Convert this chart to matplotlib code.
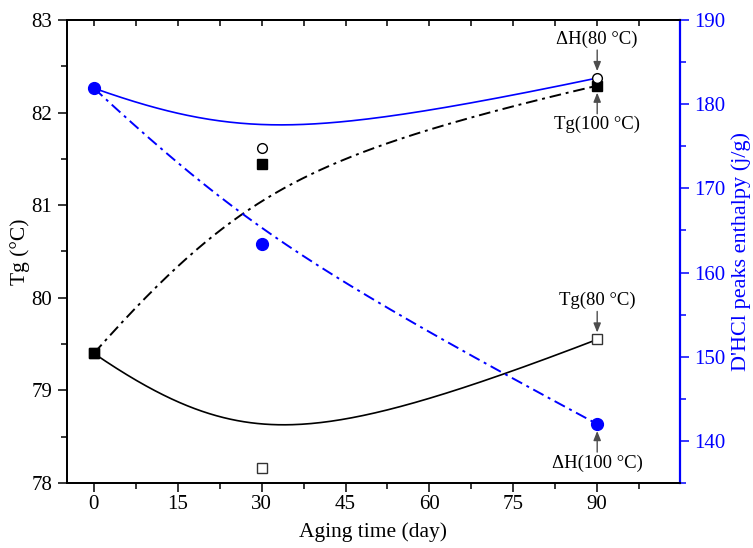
import numpy as np
import matplotlib
matplotlib.use("Agg")
import matplotlib.pyplot as plt

plt.rcParams['font.family'] = ['Liberation Serif', 'DejaVu Serif']

# aging days and measured values
days = [0, 30, 90]
tg_80 = [79.40, 78.16, 79.55]      # Tg, aged at 80 °C (°C)
tg_100 = [79.40, 81.44, 82.29]     # Tg, aged at 100 °C (°C)
dh_80 = [181.9, 174.8, 183.1]      # D'HCl peak enthalpy, 80 °C (j/g)
dh_100 = [181.9, 163.4, 142.0]     # D'HCl peak enthalpy, 100 °C (j/g)

x_ticks = [0, 15, 30, 45, 60, 75, 90]
tg_ticks = [78, 79, 80, 81, 82, 83]
dh_ticks = [140, 150, 160, 170, 180, 190]

BLUE = '#0000ff'
GREY = '#4d4d4d'
DASHDOT = (0, (6, 2.5, 1.5, 2.5))


def bspline(xs, ys, w=1.8, n=200):
    """Rational quadratic B-spline using the three points as control points."""
    t = np.linspace(0, 1, n)
    b0, b1, b2 = (1 - t) ** 2, 2 * w * t * (1 - t), t ** 2
    d = b0 + b1 + b2
    xs, ys = np.asarray(xs, float), np.asarray(ys, float)
    return ((b0 * xs[0] + b1 * xs[1] + b2 * xs[2]) / d,
            (b0 * ys[0] + b1 * ys[1] + b2 * ys[2]) / d)


fig = plt.figure(figsize=(7.53, 5.48), dpi=100)
ax = fig.add_axes([0.089, 0.1186, 0.814, 0.845])
ax2 = ax.twinx()

# Tg curves on the left axis
ax.plot(*bspline(days, tg_80), color='black', lw=1.2, zorder=2)
ax.plot(*bspline(days, tg_100), color='black', lw=1.4, ls=DASHDOT, zorder=2)
ax.plot(days, tg_80, ls='none', marker='s', ms=6.5, mfc='white', mec='#333333',
        mew=1.0, zorder=4)
ax.plot(days, tg_100, ls='none', marker='s', ms=7, mfc='black', mec='black', zorder=4)

# enthalpy curves on the right axis
ax2.plot(*bspline(days, dh_80), color=BLUE, lw=1.2, zorder=2)
ax2.plot(*bspline(days, dh_100), color=BLUE, lw=1.4, ls=DASHDOT, zorder=2)
ax2.plot(days[1:], dh_80[1:], ls='none', marker='o', ms=7, mfc='white', mec='black',
         mew=1.0, zorder=4)
ax2.plot(days, dh_100, ls='none', marker='o', ms=8.5, mfc=BLUE, mec=BLUE, zorder=5)

ax.set_xlim(-4.8, 104.8)
ax.set_ylim(78, 83)
ax2.set_ylim(135, 190)

ax.set_xticks(x_ticks)
ax.set_xticks(np.arange(7.5, 104, 15), minor=True)
ax.set_yticks(tg_ticks)
ax.set_yticks(np.arange(78.5, 83, 1), minor=True)
ax2.set_yticks(dh_ticks)
ax2.set_yticks(np.arange(135, 190, 10), minor=True)

ax.tick_params(axis='both', which='major', direction='out', length=6.5, width=1.1,
               labelsize=15, colors='black', pad=4)
ax.tick_params(axis='x', which='major', pad=2)
ax.tick_params(axis='both', which='minor', direction='out', length=4, width=1.1)
ax2.tick_params(axis='y', which='major', direction='out', length=6.5, width=1.1,
                labelsize=15, colors=BLUE, pad=4)
ax2.tick_params(axis='y', which='minor', direction='out', length=4, width=1.1,
                colors=BLUE)

# mirrored ticks on the top edge, pointing inward
top = ax.secondary_xaxis('top')
top.set_xticks(x_ticks)
top.set_xticks(np.arange(7.5, 104, 15), minor=True)
top.tick_params(which='both', direction='in', length=4.5, width=1.1, labeltop=False)

for sp in ax.spines.values():
    sp.set_linewidth(1.3)
for sp in ax2.spines.values():
    sp.set_linewidth(1.3)
ax2.spines['right'].set_color(BLUE)
ax2.spines['right'].set_linewidth(1.6)
top.spines['top'].set_linewidth(1.3)

ax.set_xlabel('Aging time (day)', fontsize=15.5, labelpad=6)
ax.set_ylabel('Tg (°C)', fontsize=15.5, labelpad=1)
ax2.set_ylabel("D'HCl peaks enthalpy (j/g)", fontsize=16, color=BLUE, labelpad=4)

# labelled arrows at the 90-day points
arrow = dict(arrowstyle='-|>,head_length=0.55,head_width=0.22', color=GREY, lw=1.0,
             shrinkA=0, shrinkB=5)
notes = [
    (ax2, dh_80[2], 'ΔH(80 °C)', -1),
    (ax, tg_100[2], 'Tg(100 °C)', 1),
    (ax, tg_80[2], 'Tg(80 °C)', -1),
    (ax2, dh_100[2], 'ΔH(100 °C)', 1),
]
for a, val, label, side in notes:
    a.annotate('', xy=(days[2], val), xycoords='data',
               xytext=(0, -side * 28), textcoords='offset pixels',
               arrowprops=arrow, zorder=6)
    a.annotate(label, xy=(days[2], val), xycoords='data',
               xytext=(0, -side * 39), textcoords='offset pixels',
               ha='center', va='center', fontsize=13.5, color='black', zorder=6)

fig.savefig('out.png', dpi=100)
